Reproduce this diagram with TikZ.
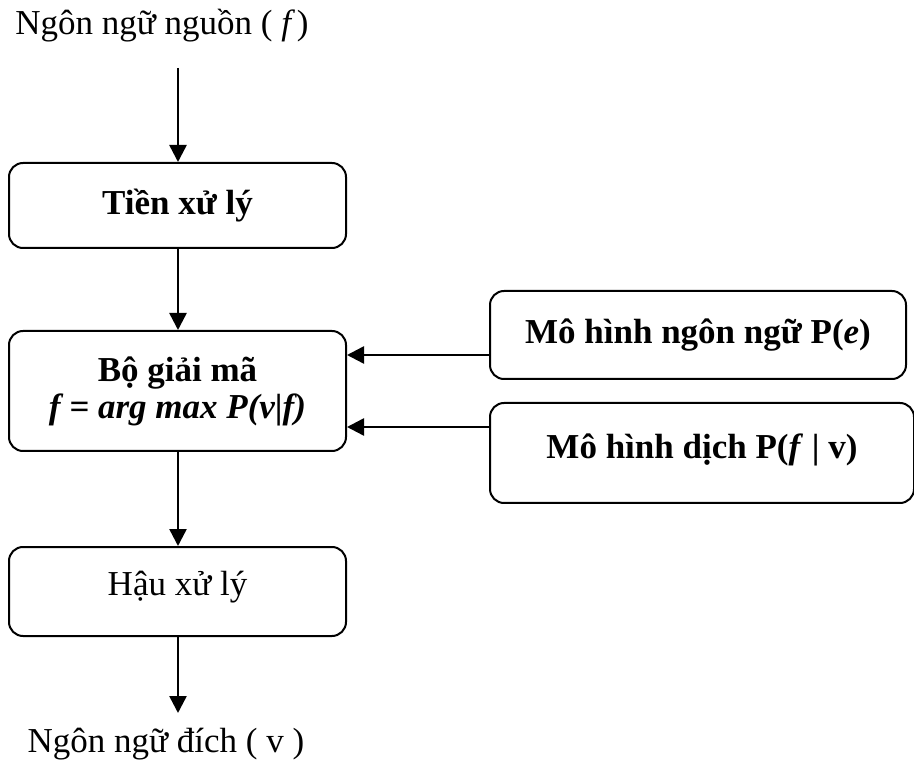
\documentclass[tikz,border=0pt]{standalone}
\usepackage{fontspec}
\setmainfont{Liberation Serif}
\usetikzlibrary{arrows.meta,calc}
\begin{document}
\begin{tikzpicture}[x=1pt,y=-1pt,
  stage/.style={draw,line width=2pt,rounded corners=14pt,inner sep=0pt,
    align=center,font=\fontsize{35}{41}\selectfont},
  flow/.style={line width=2.5pt,-{Triangle[length=17pt,width=17pt]}},
  label/.style={inner sep=0pt,font=\fontsize{35}{41}\selectfont}]
  \useasboundingbox (0,0) rectangle (914,767);

  % input and output labels
  \node[label] (src) at (162,26) {Ngôn ngữ nguồn ( \textit{f\,})};
  \node[label] (dst) at (166,744) {Ngôn ngữ đích ( v )};

  % main pipeline
  \node[stage,minimum width=337pt,minimum height=85pt] (pre) at (177.5,205.5)
    {\textbf{Tiền xử lý}};
  \node[stage,minimum width=337pt,minimum height=120pt] (dec) at (177.5,391)
    {\textbf{Bộ giải mã}\\[-4pt] \textbf{\textit{f = arg max P(v|f)}}};
  \node[stage,minimum width=337pt,minimum height=89pt] (post) at (177.5,591.5)
    {\raisebox{16pt}{Hậu xử lý}};

  % models feeding the decoder
  \node[stage,minimum width=416pt,minimum height=88pt] (lm) at (698,335)
    {\textbf{Mô hình ngôn ngữ P(\textit{e})}};
  \node[stage,minimum width=424pt,minimum height=100pt] (tm) at (702,453)
    {\raisebox{14pt}{\textbf{Mô hình dịch P(\textit{f} | v)}}};

  % connectors
  \coordinate (in) at (178,68);
  \coordinate (out) at (178,713);
  \draw[flow] (in) -- (in |- pre.north);
  \draw[flow] (pre.south -| in) -- (dec.north -| in);
  \draw[flow] (dec.south -| in) -- (post.north -| in);
  \draw[flow] (post.south -| out) -- (out);
  \coordinate (lmout) at ([yshift=-20pt]lm.west);
  \coordinate (tmout) at ([yshift=26pt]tm.west);
  \draw[flow] (lmout) -- (lmout -| dec.east);
  \draw[flow] (tmout) -- (tmout -| dec.east);
\end{tikzpicture}
\end{document}
